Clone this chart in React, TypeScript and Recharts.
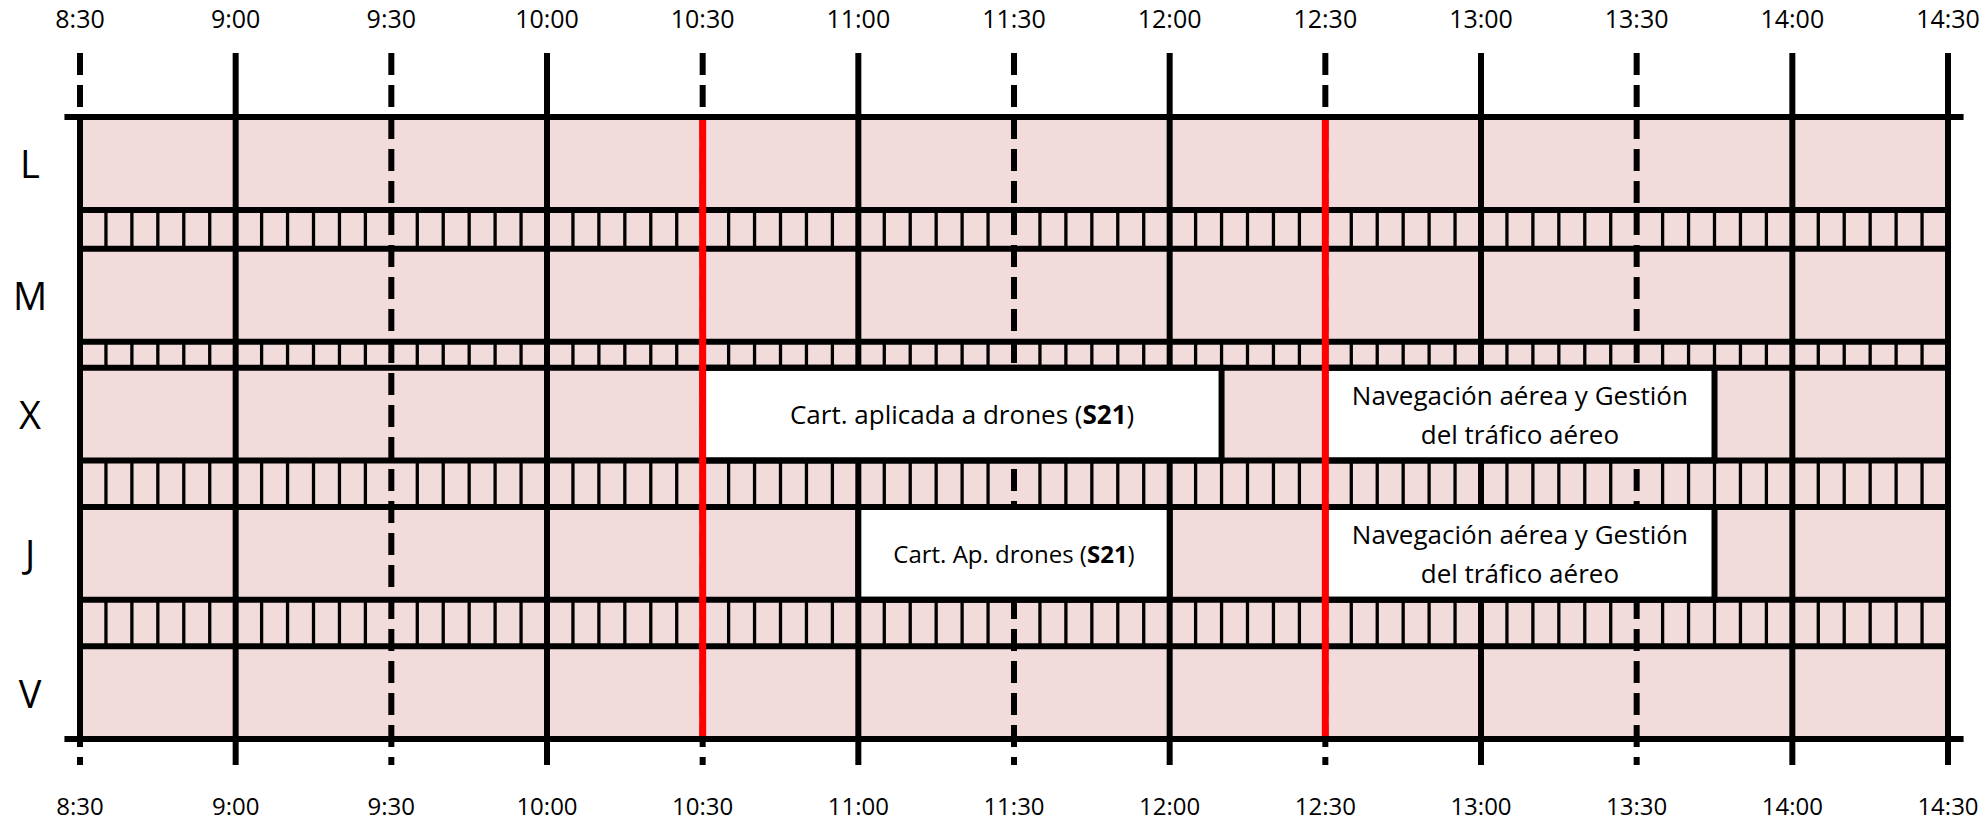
import React from "react";
import {
  ComposedChart,
  XAxis,
  YAxis,
  ReferenceArea,
  ReferenceLine,
} from "recharts";

// time grid (half hours shown on both axes)
const TIME_LABELS = [
  "8:30", "9:00", "9:30", "10:00", "10:30", "11:00", "11:30",
  "12:00", "12:30", "13:00", "13:30", "14:00", "14:30",
];
const SOLID_TIMES = ["9:00", "10:00", "11:00", "12:00", "13:00", "14:00", "14:30"];
const DASHED_TIMES = ["8:30", "9:30", "10:30", "11:30", "12:30", "13:30"];
const RED_TIMES = ["10:30", "12:30"];
const MINOR_STEP = 5; // minutes between small marks in the separator strips

// days and the thin separator strips between them (row = 1 unit)
const DAYS = ["L", "M", "X", "J", "V"];
const STRIP_SIZES = [0.42, 0.28, 0.5, 0.5];
const TOP_EXT = 0.69;
const BOTTOM_EXT = 0.28;

type Seg = [string, boolean];
const NAV: Seg[][] = [[["Navegación aérea y Gestión", false]], [["del tráfico aéreo", false]]];

const CLASSES = [
  { day: "X", start: "10:30", end: "12:10", size: 26, lines: [[["Cart. aplicada a drones (", false], ["S21", true], [")", false]]] as Seg[][] },
  { day: "X", start: "12:30", end: "13:45", size: 26, lines: NAV },
  { day: "J", start: "11:00", end: "12:00", size: 24, lines: [[["Cart. Ap. drones (", false], ["S21", true], [")", false]]] as Seg[][] },
  { day: "J", start: "12:30", end: "13:45", size: 26, lines: NAV },
];

const toMin = (t: string) => {
  const [h, m] = t.split(":").map(Number);
  return h * 60 + m;
};

const START = toMin(TIME_LABELS[0]);
const END = toMin(TIME_LABELS[TIME_LABELS.length - 1]);
const timeData = TIME_LABELS.map((t) => ({ t, m: toMin(t) }));

// row layout in y units
const rowBounds: { day: string; top: number; bottom: number }[] = [];
const strips: { top: number; bottom: number }[] = [];
let cursor = 0;
DAYS.forEach((day, i) => {
  rowBounds.push({ day, top: cursor, bottom: cursor + 1 });
  cursor += 1;
  if (i < STRIP_SIZES.length) {
    strips.push({ top: cursor, bottom: cursor + STRIP_SIZES[i] });
    cursor += STRIP_SIZES[i];
  }
});
const GRID_BOTTOM = cursor;
const hLines = Array.from(new Set([0, ...rowBounds.flatMap((r) => [r.top, r.bottom])]));
const innerHLines = hLines.filter((y) => y !== 0 && y !== GRID_BOTTOM);

const minorTimes: number[] = [];
for (let m = START + MINOR_STEP; m < END; m += MINOR_STEP) {
  if ((m - START) % 30 !== 0) minorTimes.push(m);
}

const FONT = "'Open Sans', sans-serif";
const LINE_W = 6;

const TopTick = (props: any) => {
  const { x, y, payload } = props;
  const label = TIME_LABELS.find((t) => toMin(t) === payload.value);
  return (
    <text x={x} y={y} dy={-25} textAnchor="middle" fontSize={25} fontFamily={FONT} fill="#000">
      {label}
    </text>
  );
};

const BottomTick = (props: any) => {
  const { x, y, payload } = props;
  const label = TIME_LABELS.find((t) => toMin(t) === payload.value);
  return (
    <text x={x} y={y} dy={50} textAnchor="middle" fontSize={24} fontFamily={FONT} fill="#000">
      {label}
    </text>
  );
};

const DayTick = (props: any) => {
  const { x, y, payload } = props;
  const row = rowBounds.find((r) => (r.top + r.bottom) / 2 === payload.value);
  return (
    <text x={x - 50} y={y} textAnchor="middle" dominantBaseline="central" fontSize={38} fontFamily={FONT} fill="#000">
      {row ? row.day : ""}
    </text>
  );
};

const boxLabel = (lines: Seg[][], size: number) => (props: any) => {
  const { x, y, width, height } = props.viewBox;
  const cx = x + width / 2;
  const cy = y + height / 2;
  const lh = size * 1.5;
  return (
    <g>
      {lines.map((ln, i) => (
        <text
          key={i}
          x={cx}
          y={cy + (i - (lines.length - 1) / 2) * lh}
          textAnchor="middle"
          dominantBaseline="central"
          fontSize={size}
          fontFamily={FONT}
          fill="#000"
        >
          {ln.map(([t, b], j) => (
            <tspan key={j} fontWeight={b ? 700 : 400}>
              {t}
            </tspan>
          ))}
        </text>
      ))}
    </g>
  );
};

export default function App() {
  return (
    <div style={{ position: "absolute", left: 0, top: 0, width: 1985, height: 826, background: "#fff" }}>
      <ComposedChart width={1985} height={826} data={timeData} margin={{ top: 0, right: 37, bottom: 0, left: 0 }}>
        <XAxis
          xAxisId="top"
          dataKey="m"
          orientation="top"
          type="number"
          domain={[START, END]}
          ticks={TIME_LABELS.map(toMin)}
          interval={0}
          height={53}
          axisLine={false}
          tickLine={false}
          tickSize={0}
          tickMargin={0}
          tick={<TopTick />}
          allowDataOverflow
        />
        <XAxis
          xAxisId={0}
          dataKey="m"
          orientation="bottom"
          type="number"
          domain={[START, END]}
          ticks={TIME_LABELS.map(toMin)}
          interval={0}
          height={61}
          axisLine={false}
          tickLine={false}
          tickSize={0}
          tickMargin={0}
          tick={<BottomTick />}
          allowDataOverflow
        />
        <YAxis
          type="number"
          reversed
          domain={[-TOP_EXT, GRID_BOTTOM + BOTTOM_EXT]}
          ticks={rowBounds.map((r) => (r.top + r.bottom) / 2)}
          interval={0}
          width={80}
          axisLine={false}
          tickLine={false}
          tickSize={0}
          tickMargin={0}
          tick={<DayTick />}
          allowDataOverflow
        />

        {/* background */}
        <ReferenceArea x1={START} x2={END} y1={0} y2={GRID_BOTTOM} fill="#f2dcdb" fillOpacity={1} stroke="none" ifOverflow="visible" zIndex={10} />

        {/* half hour lines, full height incl. the ticks outside */}
        {DASHED_TIMES.map((t) => (
          <ReferenceLine
            key={"d" + t}
            segment={[{ x: toMin(t), y: -TOP_EXT }, { x: toMin(t), y: GRID_BOTTOM + BOTTOM_EXT }]}
            stroke="#000"
            strokeWidth={LINE_W}
            strokeDasharray="22 10"
            ifOverflow="visible"
            zIndex={20}
          />
        ))}
        {SOLID_TIMES.map((t) => (
          <ReferenceLine
            key={"s" + t}
            segment={[{ x: toMin(t), y: -TOP_EXT }, { x: toMin(t), y: GRID_BOTTOM + BOTTOM_EXT }]}
            stroke="#000"
            strokeWidth={LINE_W}
            ifOverflow="visible"
            zIndex={20}
          />
        ))}
        {/* left border */}
        <ReferenceLine
          segment={[{ x: START, y: 0 }, { x: START, y: GRID_BOTTOM }]}
          stroke="#000"
          strokeWidth={LINE_W}
          ifOverflow="visible"
          zIndex={20}
        />

        {/* 5 minute marks in the strips */}
        {strips.flatMap((s, si) =>
          minorTimes.map((m) => (
            <ReferenceLine
              key={`m${si}-${m}`}
              segment={[{ x: m, y: s.top }, { x: m, y: s.bottom }]}
              stroke="#000"
              strokeWidth={3.3}
              ifOverflow="visible"
              zIndex={20}
            />
          ))
        )}

        {/* classes */}
        {CLASSES.map((c, i) => {
          const row = rowBounds.find((r) => r.day === c.day)!;
          return (
            <ReferenceArea
              key={"c" + i}
              x1={toMin(c.start)}
              x2={toMin(c.end)}
              y1={row.top}
              y2={row.bottom}
              fill="#fff"
              fillOpacity={1}
              stroke="#000"
              strokeWidth={LINE_W}
              ifOverflow="visible"
              zIndex={30}
              label={boxLabel(c.lines, c.size)}
            />
          );
        })}

        {/* inner horizontal lines */}
        {innerHLines.map((y) => (
          <ReferenceLine
            key={"h" + y}
            segment={[{ x: START, y }, { x: END, y }]}
            stroke="#000"
            strokeWidth={LINE_W}
            ifOverflow="visible"
            zIndex={40}
          />
        ))}

        {/* red marks */}
        {RED_TIMES.map((t) => (
          <ReferenceLine
            key={"r" + t}
            segment={[{ x: toMin(t), y: 0 }, { x: toMin(t), y: GRID_BOTTOM }]}
            stroke="#ff0000"
            strokeWidth={7}
            ifOverflow="visible"
            zIndex={50}
          />
        ))}

        {/* outer horizontal borders */}
        {[0, GRID_BOTTOM].map((y) => (
          <ReferenceLine
            key={"b" + y}
            segment={[{ x: START - 3, y }, { x: END + 3, y }]}
            stroke="#000"
            strokeWidth={LINE_W}
            ifOverflow="visible"
            zIndex={60}
          />
        ))}
      </ComposedChart>
    </div>
  );
}
